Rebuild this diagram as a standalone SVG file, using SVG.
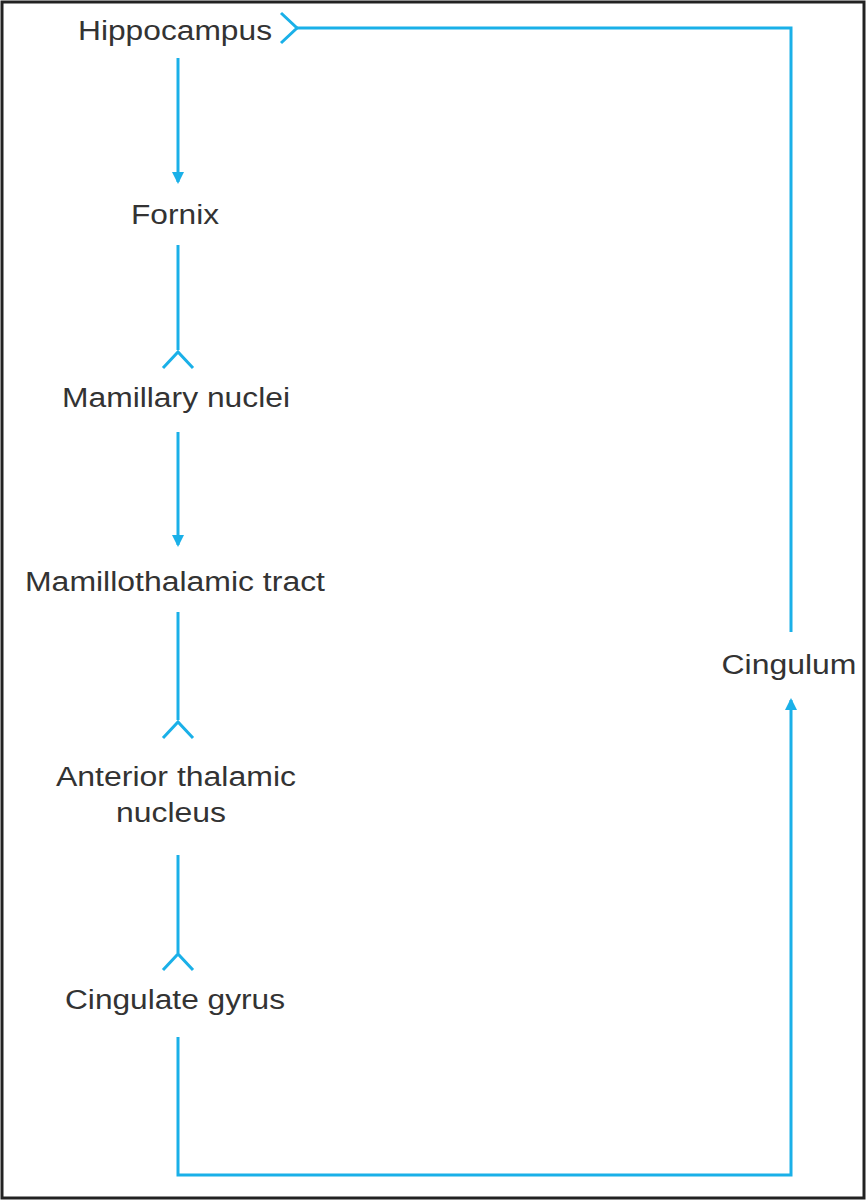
<svg xmlns="http://www.w3.org/2000/svg" width="866" height="1200" viewBox="0 0 866 1200">
<style>
text{font-family:"Liberation Sans",Arial,sans-serif;font-size:27px;fill:#333;text-anchor:middle}
.c path,.c line,.c polyline{stroke:#1ab0e8;stroke-width:3;fill:none}
</style>
<defs><marker id="a" markerWidth="12" markerHeight="14" refX="10" refY="6" orient="auto" markerUnits="userSpaceOnUse" viewBox="0 0 12 12"><path d="M0,0L12,6L0,12z" fill="#1ab0e8"/></marker></defs>
<rect x="2" y="2" width="862" height="1196" fill="#fff" stroke="#222" stroke-width="3"/>
<g id="hippocampus"><text x="175" y="40" textLength="194" lengthAdjust="spacingAndGlyphs">Hippocampus</text></g>
<g id="fornix"><text x="175" y="224" textLength="88" lengthAdjust="spacingAndGlyphs">Fornix</text></g>
<g id="mamillary"><text x="176" y="407" textLength="228" lengthAdjust="spacingAndGlyphs">Mamillary nuclei</text></g>
<g id="tract"><text x="175" y="591" textLength="300" lengthAdjust="spacingAndGlyphs">Mamillothalamic tract</text></g>
<g id="anterior"><text x="176" y="786" textLength="240" lengthAdjust="spacingAndGlyphs">Anterior thalamic</text><text x="171" y="822" textLength="110" lengthAdjust="spacingAndGlyphs">nucleus</text></g>
<g id="cingulate"><text x="175" y="1009" textLength="220" lengthAdjust="spacingAndGlyphs">Cingulate gyrus</text></g>
<g id="cingulum"><text x="789" y="674" textLength="135" lengthAdjust="spacingAndGlyphs">Cingulum</text></g>
<g class="c" id="connectors">
<line x1="178" y1="58" x2="178" y2="182" marker-end="url(#a)"/>
<line x1="178" y1="245" x2="178" y2="350"/><polyline points="163,368 178,352 193,368"/>
<line x1="178" y1="432" x2="178" y2="545" marker-end="url(#a)"/>
<line x1="178" y1="612" x2="178" y2="720"/><polyline points="163,738 178,722 193,738"/>
<line x1="178" y1="855" x2="178" y2="953"/><polyline points="163,970 178,954 193,970"/>
<path d="M178,1037V1175H791V700" marker-end="url(#a)"/>
<path d="M791,632V28H297"/><polyline points="281,13 297,28 281,43"/>
</g>
</svg>
